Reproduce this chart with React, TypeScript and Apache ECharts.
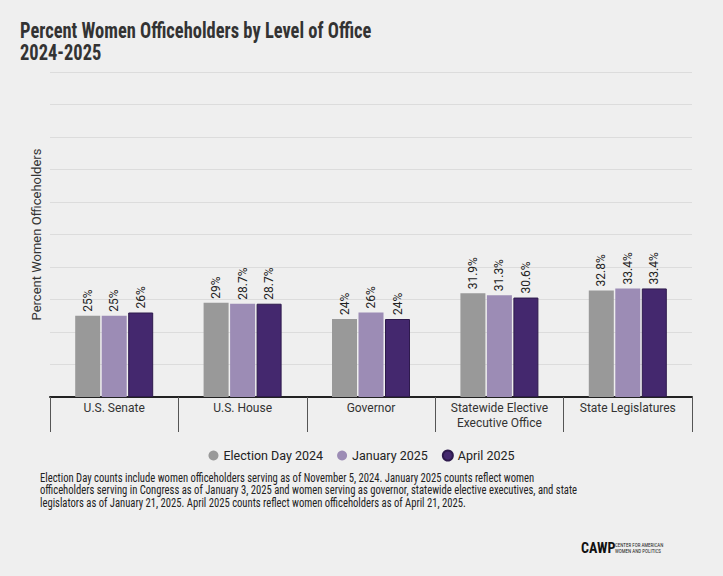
import React, { useEffect, useRef } from "react";
import * as echarts from "echarts";

const categories = ["U.S. Senate", "U.S. House", "Governor", "Statewide Elective\nExecutive Office", "State Legislatures"];
const seriesNames = ["Election Day 2024", "January 2025", "April 2025"];
const electionDay2024 = [25, 29, 24, 31.9, 32.8];
const january2025 = [25, 28.7, 26, 31.3, 33.4];
const april2025 = [26, 28.7, 24, 30.6, 33.4];
const colors = ["#999999", "#9c8cb5", "#44286e"];

const titleLines = ["Percent Women Officeholders by Level of Office", "2024-2025"];
const yAxisName = "Percent Women Officeholders";
const footnote = [
  "Election Day counts include women officeholders serving as of November 5, 2024. January 2025 counts reflect women",
  "officeholders serving in Congress as of January 3, 2025 and women serving as governor, statewide elective executives, and state",
  "legislators as of January 21, 2025. April 2025 counts reflect women officeholders as of April 21, 2025.",
];

const COND = "'Roboto Condensed', 'Liberation Sans Narrow', 'DejaVu Sans Condensed', sans-serif";

export default function App() {
  const ref = useRef<HTMLDivElement>(null);
  useEffect(() => {
    document.body.style.margin = "0";
    if (!ref.current) return;
    const chart = echarts.init(ref.current, undefined, { renderer: "svg" });
    const data = [electionDay2024, january2025, april2025];
    chart.setOption({
      animation: false,
      backgroundColor: "#efefef",
      legend: {
        data: seriesNames,
        bottom: 109,
        left: "center",
        icon: "circle",
        itemWidth: 10,
        itemHeight: 10,
        itemGap: 14,
        textStyle: { fontFamily: "Roboto, sans-serif", fontSize: 12.5, color: "#222" },
      },
      grid: { left: 50, right: 31, top: 72, bottom: 179, containLabel: false },
      xAxis: {
        type: "category",
        data: categories,
        axisLine: { lineStyle: { color: "#222", width: 2 } },
        axisTick: { show: true, length: 35, interval: 0, alignWithLabel: false, lineStyle: { color: "#555", width: 1 } },
        axisLabel: { interval: 0, margin: 3, fontFamily: "Roboto, sans-serif", fontSize: 12, color: "#333", lineHeight: 15 },
      },
      yAxis: {
        type: "value",
        min: 0,
        max: 100,
        interval: 10,
        name: yAxisName,
        nameLocation: "middle",
        nameGap: 7,
        nameTextStyle: { fontFamily: "Roboto, sans-serif", fontSize: 13, color: "#333" },
        axisLabel: { show: false },
        axisLine: { show: false },
        axisTick: { show: false },
        splitLine: { lineStyle: { color: "#dcdcdc", width: 1 } },
      },
      series: seriesNames.map((name, i) => ({
        name,
        type: "bar",
        data: data[i],
        barWidth: 25,
        barGap: "6%",
        itemStyle: { color: colors[i], borderColor: i === 2 ? "#2e1a4d" : "transparent", borderWidth: i === 2 ? 1 : 0 },
        label: {
          show: true,
          position: "top",
          rotate: 90,
          align: "left",
          verticalAlign: "middle",
          distance: 4,
          formatter: (p: any) => p.value + "%",
          fontFamily: "Roboto, sans-serif",
          fontSize: 12,
          color: "#222",
        },
      })),
      graphic: [
        {
          type: "text",
          x: 20,
          y: 19,
          scaleX: 0.84,
          style: { text: titleLines[0], font: `bold 22px ${COND}`, fill: "#333333" },
        },
        {
          type: "text",
          x: 20,
          y: 41,
          scaleX: 0.84,
          style: { text: titleLines[1], font: `bold 22px ${COND}`, fill: "#333333" },
        },
        ...footnote.map((line, i) => ({
          type: "text",
          x: 40,
          y: 471 + i * 12.5,
          scaleX: 0.85,
          style: { text: line, font: `12.5px ${COND}`, fill: "#222" },
        })),
        {
          type: "text",
          x: 581,
          y: 541,
          style: { text: "CAWP", font: `bold 14px ${COND}`, fill: "#111" },
        },
        {
          type: "text",
          x: 615,
          y: 542,
          style: { text: "CENTER FOR AMERICAN\nWOMEN AND POLITICS", font: `5px ${COND}`, fill: "#222", lineHeight: 6 },
        },
      ],
    });
    return () => chart.dispose();
  }, []);
  return <div ref={ref} style={{ width: 723, height: 576 }} />;
}
